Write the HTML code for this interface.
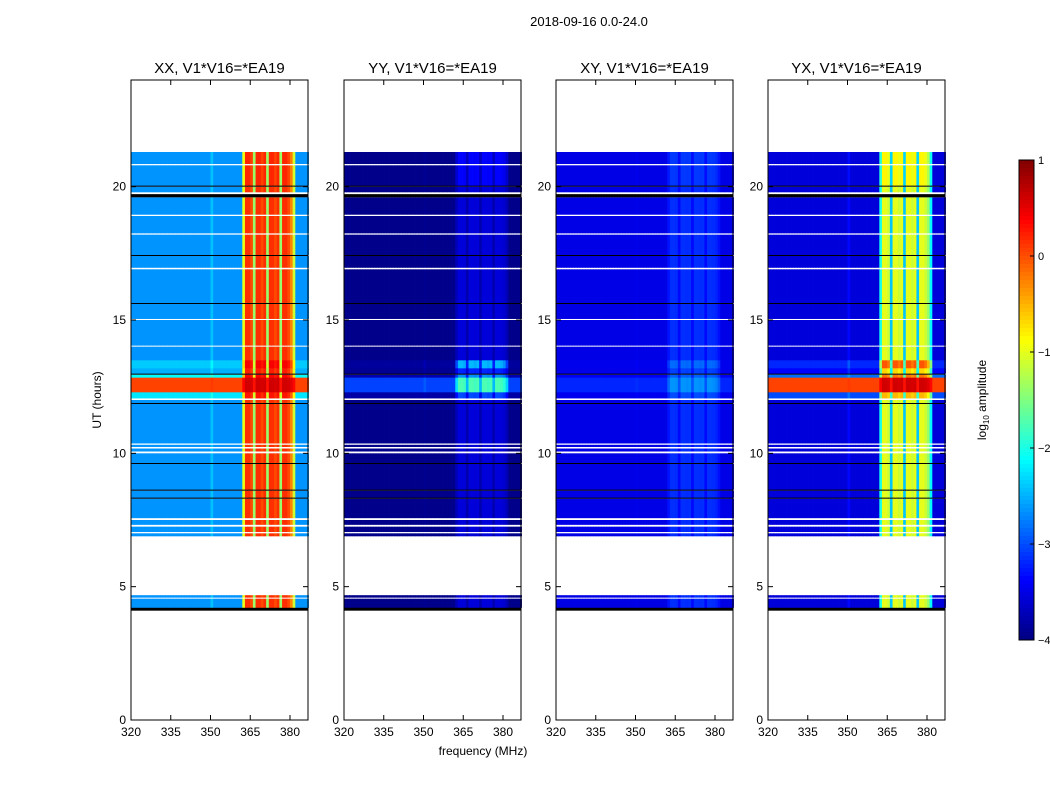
<!DOCTYPE html>
<html><head><meta charset="utf-8"><style>
body{margin:0;background:#fff;}
svg{display:block;font-family:"Liberation Sans",sans-serif;}
</style></head><body>
<svg id="fig" width="1050" height="800">
<text x="589" y="26" font-size="13" text-anchor="middle">2018-09-16 0.0-24.0</text>
<text x="483" y="755" font-size="12" text-anchor="middle">frequency (MHz)</text>
<text transform="translate(101,400) rotate(-90)" font-size="12" text-anchor="middle">UT (hours)</text>
<g id="panels"></g>
<g id="cbar"></g>
<text transform="translate(986,400) rotate(-90)" font-size="12" text-anchor="middle">log<tspan font-size="8" dy="3">10</tspan><tspan dy="-3"> amplitude</tspan></text>
</svg>
<script>
const panelTitles=["XX, V1*V16=*EA19","YY, V1*V16=*EA19","XY, V1*V16=*EA19","YX, V1*V16=*EA19"];
const panelLeft=[131,344,556,768];
const bgLevel=[-2.65,-3.95,-3.5,-3.55];
const bandLevel=[0.15,-3.55,-3.15,-1.0];
const hotBg=[2.7,0.9,0.3,3.6];
const hotBand=[0.45,1.8,0.5,1.6];
const xTicks=[320,335,350,365,380];
const yTicks=[0,5,10,15,20];
const cbTicks=[1,0,-1,-2,-3,-4];
// channel profile, 1 MHz bins from 320 to 386
const colBand=[0,0,0,0,0,0,0,0,0,0, 0,0,0,0,0,0,0,0,0,0, 0,0,0,0,0,0,0,0,0,0,
 0.08,0,0,0,0,0,0,0,0,0, 0,0,
 0.6,1,1,0.95,0.45, 1,1,0.95,1,0.45, 1,1,0.95,1,0.45, 1,1,0.95,0.85,0.55,
 0,0,0,0,0];
// time segments: [start, end, kind, bandHot] kind: 'w' white gap, 'k' black line, number = bg hot factor
const segments=[[4.10,4.22,'k',0],[4.22,4.55,0,0],[4.55,4.60,'w',0],[4.60,4.68,0,0],[4.68,6.90,'w',0],
[6.90,7.0,0,0],[7.0,7.06,'w',0],[7.06,7.25,0,0],[7.25,7.33,'w',0],[7.33,7.5,0,0],[7.5,7.58,'w',0],[7.58,8.3,0,0],
[8.3,8.35,'k',0],[8.35,8.6,0,0],[8.6,8.65,'k',0],[8.65,9.6,0,0],[9.6,9.65,'k',0],[9.65,10.0,0,0],[10.0,10.08,'w',0],
[10.08,10.18,0,0],[10.18,10.25,'w',0],[10.25,10.32,0,0],[10.32,10.38,'w',0],[10.38,11.85,0,0],[11.85,11.9,'k',0],
[11.9,12.0,0,0],[12.0,12.07,'w',0],[12.07,12.3,0.15,0.3],[12.3,12.85,1,1],[12.85,12.95,0.2,0.5],[12.95,13.0,'k',0],
[13.0,13.2,0.05,0.2],[13.2,13.5,0.1,0.6],[13.5,14.0,0,0],[14.0,14.05,'w',0],[14.05,15.0,0,0],[15.0,15.05,'w',0],
[15.05,15.6,0,0],[15.6,15.65,'k',0],[15.65,16.9,0,0],[16.9,16.97,'w',0],[16.97,17.4,0,0],[17.4,17.45,'k',0],
[17.45,18.2,0,0],[18.2,18.26,'w',0],[18.26,18.9,0,0],[18.9,18.96,'w',0],[18.96,19.6,0,0],[19.6,19.72,'k',0],
[19.72,19.8,'w',0],[19.8,20.0,0,0],[20.0,20.05,'k',0],[20.05,20.8,0,0.1],[20.8,20.86,'w',0],[20.86,21.3,0,0.1]];

const NS='http://www.w3.org/2000/svg';
const PW=177,TOP=80,BOT=720;
function xs(f,L){return L+(f-320)/60*159;}
function ys(h){return BOT-(h/24)*(BOT-TOP);}
function jet(v){let t=Math.max(0,Math.min(1,(v+4)/5));
 const c=x=>Math.round(255*Math.max(0,Math.min(1,1.5-Math.abs(4*t-x))));
 return `rgb(${c(3)},${c(2)},${c(1)})`;}
function mk(tag,attrs,parent){const e=document.createElementNS(NS,tag);for(const k in attrs)e.setAttribute(k,attrs[k]);parent.appendChild(e);return e;}
const root=document.getElementById('panels');
panelTitles.forEach((title,p)=>{
 const L=panelLeft[p];
 const g=mk('g',{},root);
 
 
 segments.forEach(s=>{
  const y0=ys(s[1]),y1=ys(s[0]);
  if(s[2]==='w')return;
  if(s[2]==='k'){const r=mk('rect',{x:L,y:y0,width:PW,height:y1-y0,fill:'#000'},g);
   return;}
  const hf=s[2],hb=s[3];
  colBand.forEach((cb,i)=>{
   const f0=320+i,f1=Math.min(387,f0+1);
   const bg=bgLevel[p]+hf*hotBg[p],bd=bandLevel[p]+hb*hotBand[p];
   const v=bg+cb*(bd-bg);
   const r=mk('rect',{x:xs(f0,L),y:y0,width:xs(f1,L)-xs(f0,L)+0.4,height:y1-y0+0.3,fill:jet(v)},g);
   
   
  });
 });
 const fr=mk('rect',{x:L,y:TOP,width:PW,height:BOT-TOP,fill:'none',stroke:'#000','stroke-width':1},g);
 
 const tt=mk('text',{x:L+PW/2,y:73,'font-size':15,'text-anchor':'middle'},g);tt.textContent=title;
 
 xTicks.forEach(f=>{const x=xs(f,L);
  mk('line',{x1:x,x2:x,y1:BOT,y2:BOT-5,stroke:'#000'},g);mk('line',{x1:x,x2:x,y1:TOP,y2:TOP+5,stroke:'#000'},g);
  const t=mk('text',{x:x,y:BOT+16,'font-size':12,'text-anchor':'middle'},g);t.textContent=f;
  });
 yTicks.forEach(h=>{const y=ys(h);
  mk('line',{x1:L,x2:L+5,y1:y,y2:y,stroke:'#000'},g);mk('line',{x1:L+PW,x2:L+PW-5,y1:y,y2:y,stroke:'#000'},g);
  const t=mk('text',{x:L-5,y:y+4,'font-size':12,'text-anchor':'end'},g);t.textContent=h;
  });
});
const cb=document.getElementById('cbar');
const CT=160,CB=640,CL=1019,CW=15;
for(let i=0;i<120;i++){const v=1-5*i/120;
 const r=mk('rect',{x:CL,y:CT+i*4,width:CW,height:4.4,fill:jet(v-5/240)},cb);
 }
mk('rect',{x:CL,y:CT,width:CW,height:CB-CT,fill:'none',stroke:'#000'},cb);
cbTicks.forEach(v=>{const y=CT+(1-v)/5*(CB-CT);
 mk('line',{x1:CL+CW-4,x2:CL+CW,y1:y,y2:y,stroke:'#000'},cb);
 const t=mk('text',{x:CL+CW+4,y:y+4,'font-size':11},cb);t.textContent=v<0?'\u2212'+(-v):v;
 });
</script>
</body></html>
